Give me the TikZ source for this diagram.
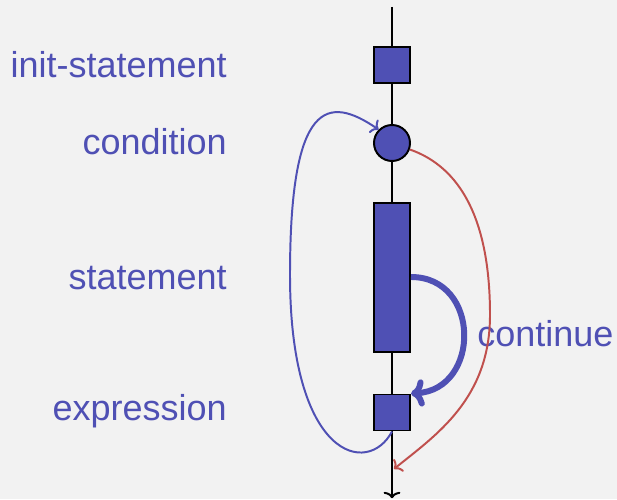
\documentclass[tikz,border=0pt]{standalone}
\usepackage{fontspec}
\setmainfont{Liberation Sans}
\usetikzlibrary{arrows.meta}
\definecolor{loopblue}{HTML}{4F50B4}
\definecolor{exitred}{HTML}{C0504D}
\definecolor{bggray}{HTML}{F2F2F2}
\begin{document}
\begin{tikzpicture}[
    every node/.style={font=\fontsize{25.6}{30}\selectfont},
    block/.style={draw=black, line width=1.4pt, fill=loopblue, minimum width=0.9cm, inner sep=0pt, shape=rectangle},
    lbl/.style={text=loopblue, inner sep=0pt},
    flow/.style={line width=1.4pt, black},
    thin curve/.style={line width=1.4pt, -{Computer Modern Rightarrow[length=0.17cm, width=0.4cm]}}]

  % Background
  \fill[bggray] (0,0) rectangle (15.425,12.475);
  \useasboundingbox (0,0) rectangle (15.425,12.475);

  % Ends of the main line
  \coordinate (top) at (9.8,12.3);
  \coordinate (bot) at (9.8,0.02);

  % Blocks
  \node[block, minimum height=0.9cm] (init) at (9.8,10.85) {};
  \node[block, shape=circle, minimum size=0.9cm] (cond) at (9.8,8.9) {};
  \node[block, minimum height=3.725cm] (stmt) at (9.8,5.5375) {};
  \node[block, minimum height=0.9cm] (expr) at (9.8,2.1625) {};

  % Labels
  \node[lbl, anchor=base east] (linit) at (5.675,10.525) {init-statement};
  \node[lbl, anchor=base east] (lcond) at (5.675,8.6) {condition};
  \node[lbl, anchor=base east] (lstmt) at (5.675,5.225) {statement};
  \node[lbl, anchor=base east] (lexpr) at (5.675,1.96) {expression};
  \node[lbl, anchor=base west] (lcont) at (11.925,3.8) {continue};

  % Main line
  \draw[flow] (top) -- (init);
  \draw[flow] (init) -- (cond);
  \draw[flow] (cond) -- (stmt);
  \draw[flow] (stmt) -- (expr);
  \draw[flow,-{Computer Modern Rightarrow[length=0.16cm, width=0.42cm]}] (expr) -- (bot);

  % Loop back
  \draw[loopblue, thin curve] (expr.south)
      .. controls (9.2,0.55) and (7.25,1.0) .. (7.25,5.6)
      .. controls (7.25,10.0) and (8.2,10.1) .. (cond.north west);

  % Exit
  \draw[exitred, thin curve] (cond.-20)
      .. controls (11.5,8.3) and (12.25,7.0) .. (12.25,4.6)
      .. controls (12.25,2.5) and (10.9,1.6) .. (9.85,0.75);

  % Continue
  \draw[loopblue, line width=4.25pt, -{Computer Modern Rightarrow[length=0.33cm, width=0.68cm]}] (stmt.east |- 0,5.55)
      .. controls +(1.75,0) and +(1.75,0.1) .. (expr.north east);

\end{tikzpicture}
\end{document}
